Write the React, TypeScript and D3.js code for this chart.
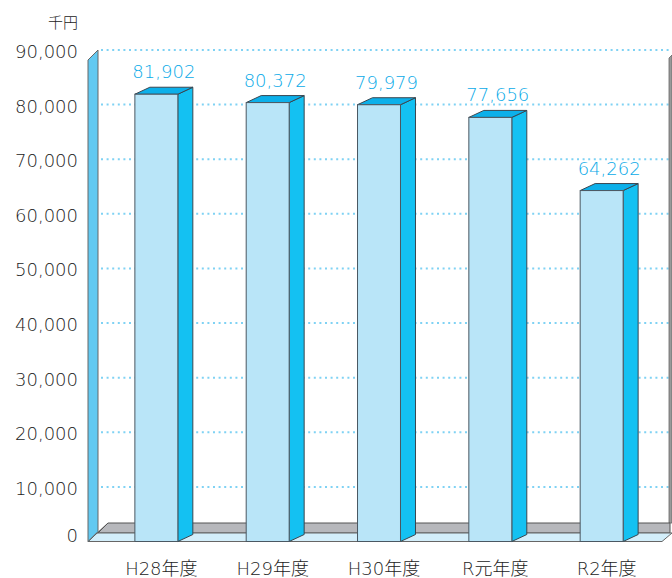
import React from "react";
import * as d3 from "d3";

const categories = ["H28年度", "H29年度", "H30年度", "R元年度", "R2年度"];
const values = [81902, 80372, 79979, 77656, 64262];
const yTicks = [0, 10000, 20000, 30000, 40000, 50000, 60000, 70000, 80000, 90000];
const unitLabel = "千円";

const W = 672;
const H = 578;
const FONT = "'DejaVu Sans', 'Noto Sans CJK JP', sans-serif";

export default function App() {
  const x0 = 88;
  const x1 = 670;
  const yBase = 541.5;
  const yTop = 50;
  const dxWall = 10;
  const dyWall = 10;
  const bdx = 15;
  const bdy = 7;
  const backRight = 670;

  const x = d3
    .scaleBand<string>()
    .domain(categories)
    .range([x0, x1])
    .paddingInner(0.614)
    .paddingOuter(0.421);
  const y = d3.scaleLinear().domain([0, 90000]).range([yBase, yTop]);
  const bw = x.bandwidth();
  const fmt = d3.format(",");

  const pts = (a: number[][]) => a.map((p) => p.join(",")).join(" ");

  const floorBackY = 533;
  const bandTopY = 523;

  return (
    <svg
      width={W}
      height={H}
      style={{ position: "absolute", left: 0, top: 0, background: "#fff" }}
    >
      {/* gridlines on back wall */}
      {yTicks
        .filter((t) => t > 0)
        .map((t) => (
          <line
            key={"g" + t}
            x1={x0 + dxWall + 3}
            x2={W}
            y1={y(t)}
            y2={y(t)}
            stroke="#7fd2f4"
            strokeWidth={2}
            strokeDasharray="2 3.6"
          />
        ))}
      {/* right wall edge */}
      <polygon
        points={pts([
          [backRight - 1, 58],
          [backRight + 2, 55],
          [backRight + 2, bandTopY],
          [backRight - 1, bandTopY],
        ])}
        fill="#9a9a9a"
        stroke="#666"
        strokeWidth={0.8}
      />
      {/* gray band at base of back wall */}
      <polygon
        points={pts([
          [x0 + 20, bandTopY],
          [backRight, bandTopY],
          [backRight, floorBackY],
          [x0 + 10, floorBackY],
        ])}
        fill="#b7b8bc"
        stroke="#555"
        strokeWidth={1}
      />
      {/* floor */}
      <polygon
        points={pts([
          [x0, yBase],
          [662, yBase],
          [672, floorBackY],
          [x0 + 9, floorBackY],
        ])}
        fill="#d3eefa"
        stroke="#666"
        strokeWidth={1}
      />
      <line x1={x0} y1={yBase} x2={x0 + 20} y2={bandTopY} stroke="#555" strokeWidth={1} />
      {/* left wall */}
      <polygon
        points={pts([
          [x0, yTop + dyWall],
          [x0 + dxWall, yTop],
          [x0 + dxWall, yBase - dyWall],
          [x0, yBase],
        ])}
        fill="#62c9f1"
        stroke="#666"
        strokeWidth={1}
      />

      {/* bars */}
      {categories.map((c, i) => {
        const bx = x(c)!;
        const by = y(values[i]);
        return (
          <g key={c}>
            <polygon
              points={pts([
                [bx + bw, by],
                [bx + bw + bdx, by - bdy],
                [bx + bw + bdx, yBase - bdy],
                [bx + bw, yBase],
              ])}
              fill="#14c1f2"
              stroke="#3a4650"
              strokeWidth={1}
            />
            <polygon
              points={pts([
                [bx, by],
                [bx + bdx, by - bdy],
                [bx + bw + bdx, by - bdy],
                [bx + bw, by],
              ])}
              fill="#0cb0ea"
              stroke="#3a4650"
              strokeWidth={1}
            />
            <rect
              x={bx}
              y={by}
              width={bw}
              height={yBase - by}
              fill="#b9e5f8"
              stroke="#4a5862"
              strokeWidth={1}
            />
            <text
              x={bx + bw / 2 + bdx / 2}
              y={by - 16}
              textAnchor="middle"
              fontFamily={FONT}
              fontWeight={200}
              fontSize={18}
              fill="#0aaae8"
            >
              {fmt(values[i])}
            </text>
            <text
              x={bx + bw / 2 + 5}
              y={575}
              textAnchor="middle"
              fontFamily={FONT}
              fontWeight={200}
              fontSize={18}
              fill="#222"
            >
              {c}
            </text>
          </g>
        );
      })}

      {/* y tick labels */}
      {yTicks.map((t) => (
        <text
          key={"t" + t}
          x={78}
          y={y(t) + (t === 0 ? -6 : 1.5)}
          textAnchor="end"
          dominantBaseline="central"
          fontFamily={FONT}
          fontWeight={200}
          fontSize={18}
          fill="#222"
        >
          {fmt(t)}
        </text>
      ))}
      <text
        x={78}
        y={28}
        textAnchor="end"
        fontFamily={FONT}
        fontWeight={200}
        fontSize={15}
        fill="#222"
      >
        {unitLabel}
      </text>
    </svg>
  );
}
